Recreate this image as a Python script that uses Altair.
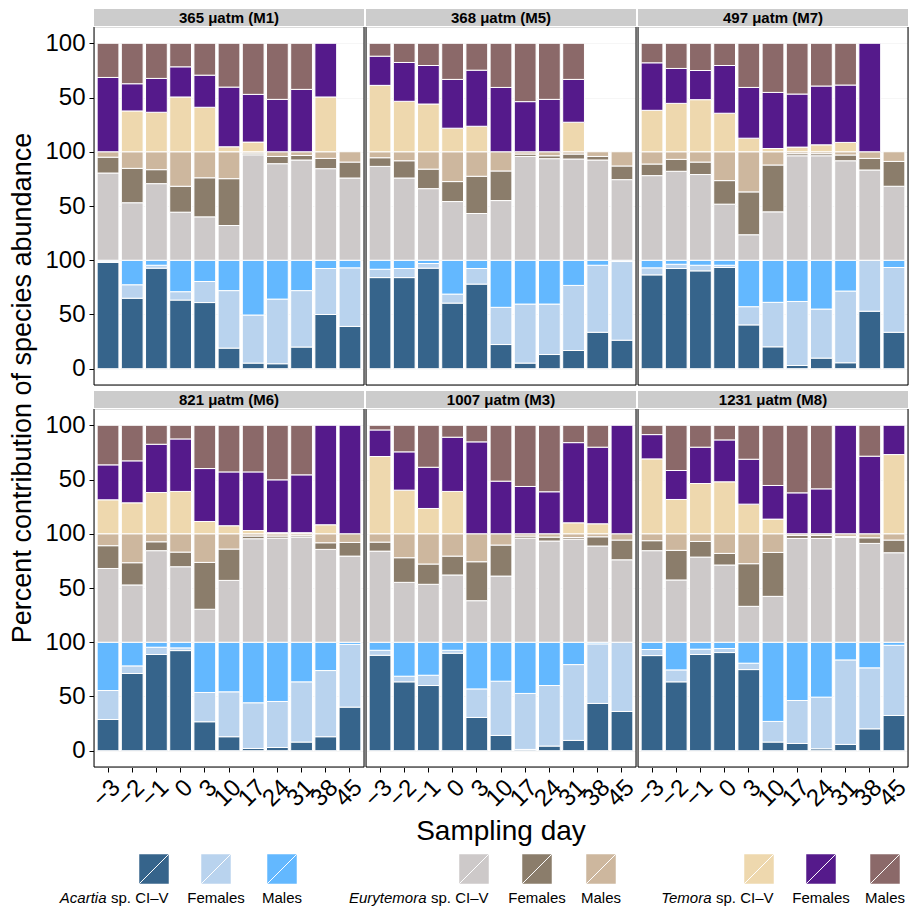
import altair as alt
import pandas as pd

FONT = "Liberation Sans"

DAYS = ["-3", "-2", "-1", "0", "3", "10", "17", "24", "31", "38", "45"]
PANELS = ["M1", "M5", "M7", "M6", "M3", "M8"]
PANEL_TITLES = {
    "M1": "365 μatm (M1)", "M5": "368 μatm (M5)", "M7": "497 μatm (M7)",
    "M6": "821 μatm (M6)", "M3": "1007 μatm (M3)", "M8": "1231 μatm (M8)",
}
SPECIES = ["Acartia", "Eurytemora", "Temora"]
STAGES = ["CI–V", "Females", "Males"]

# ---- Acartia (percent) ----
ACARTIA_CIV = {
    "M1": [98, 65, 92.7, 63.3, 61, 19, 5.2, 4.6, 20, 50, 39],
    "M5": [84, 84, 92.7, 60.5, 78, 22.3, 5.2, 13.1, 16.8, 33.6, 26.3],
    "M7": [86.5, 92.4, 90.2, 93.3, 40.4, 20.2, 3, 9.8, 5.5, 53, 33.6],
    "M6": [28.8, 71.2, 88.7, 92.3, 26.7, 12.9, 2.1, 3, 8, 12.9, 40.2],
    "M3": [88, 63.5, 60.1, 89.9, 30.7, 14.1, 1.2, 4.3, 9.5, 43.6, 36.2],
    "M8": [87.7, 63.5, 88.7, 90.5, 74.8, 8, 6.7, 1.8, 5.8, 20.2, 32.5],
}
ACARTIA_F = {
    "M1": [1, 12.4, 2.7, 7.7, 19.4, 53, 44.3, 59.6, 52, 42.4, 54],
    "M5": [7.7, 8.4, 4.3, 8.3, 14.4, 34.3, 54.4, 46.5, 60, 61.8, 72.5],
    "M7": [6.5, 3.9, 5.2, 2.1, 16.8, 41, 59, 45.2, 66.1, 47, 59.7],
    "M6": [26.7, 7, 6.7, 2.5, 27, 41.4, 42.1, 42.4, 55.5, 61, 57.8],
    "M3": [4.6, 5.2, 9.5, 2.7, 26.3, 50, 51.6, 55.8, 69.9, 54.9, 63.8],
    "M8": [5.6, 11, 4.9, 3.7, 5.9, 19, 39.6, 47.6, 77.9, 56.2, 64.7],
}
ACARTIA_M = {
    "M1": [1, 22.6, 4.6, 29, 19.6, 28, 50.5, 35.8, 28, 7.6, 7],
    "M5": [8.3, 7.6, 3, 31.2, 7.6, 43.4, 40.4, 40.4, 23.2, 4.6, 1.2],
    "M7": [7, 3.7, 4.6, 4.6, 42.8, 38.8, 38, 45, 28.4, 0, 6.7],
    "M6": [44.5, 21.8, 4.6, 5.2, 46.3, 45.7, 55.8, 54.6, 36.5, 26.1, 2],
    "M3": [7.4, 31.3, 30.4, 7.4, 43, 35.9, 47.2, 39.9, 20.6, 1.5, 0],
    "M8": [6.7, 25.5, 6.4, 5.8, 19.3, 73, 53.7, 50.6, 16.3, 23.6, 2.8],
}

# ---- Eurytemora (percent) ----
EURY_CIV = {
    "M1": [80.4, 53, 70.6, 44.3, 40, 32, 97.2, 89, 92.4, 84.4, 75.8],
    "M5": [86.5, 75.8, 66, 54.1, 43.1, 55, 95.7, 93.6, 93.3, 92.4, 74.3],
    "M7": [78, 82, 79, 51.7, 23.5, 44.6, 96.3, 96.3, 91.7, 83.2, 68.2],
    "M6": [68, 52.8, 84.4, 69.6, 30.4, 57, 95.4, 96, 96.9, 85.6, 79.4],
    "M3": [84, 55.2, 53.4, 62, 38.3, 61, 96, 93.3, 95, 88.7, 76],
    "M8": [84.4, 57.4, 78.5, 71.2, 33.1, 42.3, 95.7, 95.7, 96.6, 91.1, 82.5],
}
EURY_F = {
    "M1": [14.6, 31.7, 12.9, 23.9, 36, 43.2, 1.6, 6.7, 4.2, 9.5, 14.7],
    "M5": [8, 15.9, 18, 18.4, 34.3, 27.3, 2.2, 2.7, 4.6, 3.3, 12.6],
    "M7": [10.7, 11, 11.5, 21.7, 39.5, 43.2, 1.9, 1.9, 5.3, 10.7, 22.9],
    "M6": [21, 20.5, 8.2, 13.5, 43.2, 28.9, 2.5, 1.9, 1.3, 6.1, 12.6],
    "M3": [8.3, 22.7, 18.7, 17.4, 35.9, 28.6, 1.9, 3.6, 1.5, 8.5, 18.2],
    "M8": [9.2, 27.3, 14.4, 10.7, 39.3, 40.5, 2.8, 2.8, 1, 5.2, 11.7],
}
EURY_M = {
    "M1": [5, 15.3, 16.5, 31.8, 24, 24.8, 1.2, 4.3, 3.4, 6.1, 9.5],
    "M5": [5.5, 8.3, 16, 27.5, 22.6, 17.7, 2.1, 3.7, 2.1, 4.3, 13.1],
    "M7": [11.3, 7, 9.5, 26.6, 37, 12.2, 1.8, 1.8, 3, 6.1, 8.9],
    "M6": [11, 26.7, 7.4, 16.9, 26.4, 14.1, 2.1, 2.1, 1.8, 8.3, 8],
    "M3": [7.7, 22.1, 27.9, 20.6, 25.8, 10.4, 2.1, 3.1, 3.5, 2.8, 5.8],
    "M8": [6.4, 15.3, 7.1, 18.1, 27.6, 17.2, 1.5, 1.5, 2.4, 3.7, 5.8],
}

# ---- Temora (percent; None = no sample) ----
TEMORA_CIV = {
    "M1": [0, 37.6, 36.4, 50.5, 41, 4.6, 8.9, 0, 0, 50.5, None],
    "M5": [61.2, 46.5, 44, 21.7, 23.5, 0, 0, 0, 27.2, None, None],
    "M7": [38.2, 44.6, 48, 35.5, 12.5, 3, 4.3, 6.4, 8.6, 0, None],
    "M6": [31.3, 28.5, 38, 39, 11.3, 7.4, 3, 1, 1, 8.3, 0],
    "M3": [71.2, 40.2, 23.3, 39, 0, 0, 0, 0, 10.1, 9.2, 0],
    "M8": [69, 31.6, 46.3, 47.9, 27.3, 13.5, 0, 0, 0, 0, 73],
}
TEMORA_F = {
    "M1": [68.5, 25.1, 31.2, 27.8, 29.6, 55, 44, 48.3, 57.5, 49.5, None],
    "M5": [26.9, 35.8, 35.5, 45, 51.7, 59.3, 46.2, 48.3, 39.5, None, None],
    "M7": [43.8, 32.2, 26.9, 44, 46.8, 51.7, 48.9, 54.2, 52.9, 100, None],
    "M6": [32.2, 38.7, 44.5, 48.4, 48.8, 49.6, 54, 48.7, 53.3, 91.7, 100],
    "M3": [24.5, 35.3, 38, 50, 84.7, 48.5, 43.6, 38.7, 73.9, 70.6, 100],
    "M8": [22.4, 26.7, 33.5, 38.6, 41.4, 31, 37.7, 41.4, 100, 71.5, 27],
}
TEMORA_M = {
    "M1": [31.5, 37.3, 32.4, 21.7, 29.4, 40.4, 47.1, 51.7, 42.5, 0, None],
    "M5": [11.9, 17.7, 20.5, 33.3, 24.8, 40.7, 53.8, 51.7, 33.3, None, None],
    "M7": [18, 23.2, 25.1, 20.5, 40.7, 45.3, 46.8, 39.4, 38.5, 0, None],
    "M6": [36.5, 32.8, 17.5, 12.6, 39.9, 43, 43, 50.3, 45.7, 0, 0],
    "M3": [4.3, 24.5, 38.7, 11, 15.3, 51.5, 56.4, 61.3, 16, 20.2, 0],
    "M8": [8.6, 41.7, 20.2, 13.5, 31.3, 55.5, 62.3, 58.6, 0, 28.5, 0],
}

SERIES = {
    "Acartia": [ACARTIA_CIV, ACARTIA_F, ACARTIA_M],
    "Eurytemora": [EURY_CIV, EURY_F, EURY_M],
    "Temora": [TEMORA_CIV, TEMORA_F, TEMORA_M],
}
KEYS = [f"{sp} {st}" for sp in SPECIES for st in STAGES]
COLORS = ["#36648B", "#B9D3EE", "#63B8FF",
          "#CDC9C9", "#8B7D6B", "#CDB79E",
          "#EED8AE", "#551A8B", "#8B6969"]

# ---- build long table ----
rows = []
for pi, p in enumerate(PANELS):
    for di, d in enumerate(DAYS):
        for si, sp in enumerate(SPECIES):
            cum = 0.0
            for st, arr in zip(STAGES, SERIES[sp]):
                v = arr[p][di]
                if v is None or v <= 0:
                    continue
                rows.append(dict(
                    panel=p, title=PANEL_TITLES[p], prow=pi // 3, pcol=pi % 3,
                    day=d, key=f"{sp} {st}",
                    y0=si * 100 + cum, y1=si * 100 + cum + v,
                    first=(di == 0 and si == 0 and st == "CI–V"),
                ))
                cum += v
df = pd.DataFrame(rows)

W, H = 270, 358

bars = alt.Chart().mark_bar(stroke="white", strokeWidth=1).encode(
    x=alt.X("day:N", sort=DAYS,
            scale=alt.Scale(paddingInner=0.1, paddingOuter=0.13),
            axis=alt.Axis(title=None, labelAngle=-45, labelAlign="right", labelBaseline="top",
                          labelFontSize=24, labelFont=FONT, labelColor="black",
                          labelExpr="replace(datum.label, '-', '−')",
                          tickColor="black", tickSize=5, domain=False, grid=False,
                          labelPadding=3, labelOverlap=False)),
    y=alt.Y("y0:Q", scale=alt.Scale(domain=[-15, 315], nice=False, zero=False),
            axis=alt.Axis(title=None, values=[0, 50, 100, 150, 200, 250, 300],
                          labelExpr="datum.value == 0 ? '0' : (datum.value % 100 == 0 ? '100' : '50')",
                          labelFontSize=24, labelFont=FONT, labelColor="black",
                          tickColor="black", tickSize=5, domain=False,
                          grid=True, gridColor="#F0F0F0", gridWidth=0.6, labelPadding=4)),
    y2="y1:Q",
    color=alt.Color("key:N", scale=alt.Scale(domain=KEYS, range=COLORS), legend=None),
)

first = alt.Chart().transform_filter("datum.first")
strip = first.mark_rect(color="#CCCCCC").encode(
    x=alt.value(0), x2=alt.value(W), y=alt.value(-18), y2=alt.value(-1))
strip_text = first.mark_text(font=FONT, fontSize=15, fontWeight="bold", color="black").encode(
    x=alt.value(W / 2), y=alt.value(-9.5), text="title:N")
left_line = first.mark_rule(color="black", strokeWidth=1).encode(
    x=alt.value(0), y=alt.value(0), y2=alt.value(H))
right_line = first.mark_rule(color="black", strokeWidth=1).encode(
    x=alt.value(W), y=alt.value(0), y2=alt.value(H))
bottom_line = first.mark_rule(color="black", strokeWidth=1).encode(
    x=alt.value(0), x2=alt.value(W), y=alt.value(H))

facet = alt.layer(bars, strip, strip_text, left_line, right_line, bottom_line, data=df).properties(
    width=W, height=H
).facet(
    row=alt.Row("prow:O", header=alt.Header(
        labels=False, title="Percent contribution of species abundance",
        titleFontSize=27, titleFontWeight="normal", titleFont=FONT, titleColor="black",
        titlePadding=-3)),
    column=alt.Column("pcol:O", header=alt.Header(
        labels=False, title="Sampling day", titleOrient="bottom",
        titleFontSize=28, titleFontWeight="normal", titleFont=FONT, titleColor="black",
        titlePadding=-4)),
    spacing={"row": 24, "column": 2},
    bounds="flush",
)

# ---- manual legend (keys with labels underneath) ----
LEGEND_X = [60, 122, 188, 380, 443, 507, 665, 727, 791]
LEGEND_LABELS = ["sp. CI–V", "Females", "Males"] * 3
LEGEND_ITALIC = ["Acartia", "", "", "Eurytemora", "", "", "Temora", "", ""]
leg_df = pd.DataFrame({"key": KEYS, "xpos": LEGEND_X, "label": LEGEND_LABELS,
                       "italic": LEGEND_ITALIC, "stage": STAGES * 3})
LW = 3 * W + 4
lx = alt.X("xpos:Q", scale=alt.Scale(domain=[0, LW], range=[0, LW]), axis=None)
lbase = alt.Chart(leg_df)
keys = lbase.mark_point(shape="square", filled=True, size=870, opacity=1, strokeWidth=0).encode(
    x=lx, y=alt.value(17),
    color=alt.Color("key:N", scale=alt.Scale(domain=KEYS, range=COLORS), legend=None))
diag = lbase.mark_point(shape="M-1,1L1,-1", filled=False, size=870, opacity=1,
                        stroke="white", strokeWidth=1).encode(x=lx, y=alt.value(17))
lab_center = lbase.transform_filter("datum.stage != 'CI–V'").mark_text(
    font=FONT, fontSize=15, color="black", baseline="middle").encode(
    x=lx, y=alt.value(46), text="label:N")
lab_right = lbase.transform_filter("datum.stage == 'CI–V'").mark_text(
    font=FONT, fontSize=15, color="black", baseline="middle", align="right", dx=14.5).encode(
    x=lx, y=alt.value(46), text="label:N")
lab_it = lbase.transform_filter("datum.stage == 'CI–V'").mark_text(
    font=FONT, fontSize=15, fontStyle="italic", color="black", baseline="middle",
    align="right", dx=14.5 - 62).encode(
    x=lx, y=alt.value(46), text="italic:N")
legend = alt.layer(keys, diag, lab_center, lab_right, lab_it).properties(
    width=LW, height=50, view=alt.ViewBackground(stroke="white", strokeWidth=0, fill="white"))

chart = alt.vconcat(facet, legend, spacing=6).properties(
    padding={"left": 8, "top": 8, "right": 0, "bottom": 0}
).configure_view(stroke="transparent", strokeWidth=0).configure(font=FONT)

chart.save("out.html", embed_options={"renderer": "svg", "actions": False})
